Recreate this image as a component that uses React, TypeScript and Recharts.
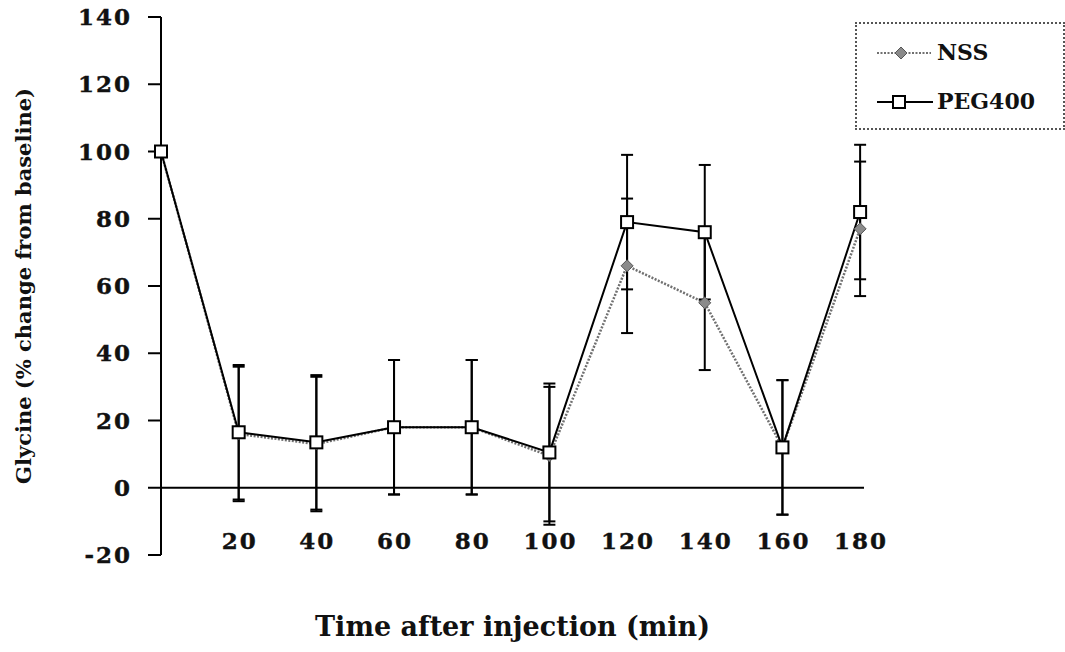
import { LineChart, Line, XAxis, YAxis, ErrorBar, ReferenceLine } from "recharts";

// minutes after injection
const times = [0, 20, 40, 60, 80, 100, 120, 140, 160, 180];
const nssMean = [100, 16, 13, 18, 18, 9.5, 66, 55, 12, 77];
const nssErr = [null, 20, 20, 20, 20, 20.5, 20, 20, 20, 20];
const pegMean = [100, 16.5, 13.5, 18, 18, 10.5, 79, 76, 12, 82];
const pegErr = [null, 20, 20, 20, 20, 20.5, 20, 20, 20, 20];

const xTicks = [20, 40, 60, 80, 100, 120, 140, 160, 180];
const yTicks = [-20, 0, 20, 40, 60, 80, 100, 120, 140];

const seriesNames = ["NSS", "PEG400"];

const data = times.map((t, i) => ({
    time: t,
    nss: nssMean[i],
    nssErr: nssErr[i],
    peg: pegMean[i],
    pegErr: pegErr[i],
}));

const tickFont = {
    fontFamily: "DejaVu Serif",
    fontWeight: 700,
    fontSize: 23,
    letterSpacing: 2,
    fill: "#111",
    stroke: "#111",
    strokeWidth: 0.4,
};

const titleFont = {
    fontFamily: "DejaVu Serif",
    fontWeight: 700,
    fill: "#111",
};

const NssDot = (props: any) => {
    const { cx, cy } = props;
    if (cx == null || cy == null) return null;
    const r = 6;
    return (
        <polygon
            points={`${cx},${cy - r} ${cx + r},${cy} ${cx},${cy + r} ${cx - r},${cy}`}
            fill="#8a8a8a"
            stroke="#555"
            strokeWidth={1}
        />
    );
};

const PegDot = (props: any) => {
    const { cx, cy } = props;
    if (cx == null || cy == null) return null;
    return (
        <rect x={cx - 6} y={cy - 6} width={12} height={12} fill="#fff" stroke="#000" strokeWidth={2} />
    );
};

const XTick = (props: any) => {
    const { x, y, payload } = props;
    return (
        <text x={x + 1} y={y - 12} textAnchor="middle" dominantBaseline="middle" style={tickFont}>
            {payload.value}
        </text>
    );
};

const LegendBox = () => (
    <div
        style={{
            position: "absolute",
            left: 855,
            top: 22,
            width: 206,
            height: 104,
            border: "2px dotted #555",
            background: "#fff",
        }}
    >
        <svg width={206} height={104}>
            <line x1={20} y1={29} x2={74} y2={29} stroke="#707070" strokeWidth={2} strokeDasharray="2 1.5" />
            <NssDot cx={44} cy={29} />
            <text x={80} y={30} dominantBaseline="middle" style={{ ...titleFont, fontSize: 22 }}>
                {seriesNames[0]}
            </text>
            <line x1={20} y1={78} x2={76} y2={78} stroke="#000" strokeWidth={2} />
            <PegDot cx={42} cy={78} />
            <text x={80} y={79} dominantBaseline="middle" style={{ ...titleFont, fontSize: 22 }}>
                {seriesNames[1]}
            </text>
        </svg>
    </div>
);

export default function App() {
    return (
        <div style={{ position: "absolute", left: 0, top: 0, width: 1065, height: 652, background: "#fff" }}>
            <LineChart
                width={1065}
                height={652}
                data={data}
                margin={{ top: 17, right: 201, bottom: 0, left: 0 }}
            >
                <XAxis
                    dataKey="time"
                    type="number"
                    domain={[0, 181]}
                    ticks={xTicks}
                    axisLine={false}
                    tickLine={false}
                    tickSize={0}
                    tickMargin={0}
                    height={97}
                    tick={<XTick />}
                    label={{
                        value: "Time after injection (min)",
                        position: "insideTop",
                        offset: 62,
                        style: { ...titleFont, fontSize: 27 },
                    }}
                />
                <YAxis
                    type="number"
                    domain={[-20, 140]}
                    ticks={yTicks}
                    width={161}
                    axisLine={{ stroke: "#000", strokeWidth: 2 }}
                    tickLine={{ stroke: "#000", strokeWidth: 2 }}
                    tickSize={13}
                    tickMargin={16}
                    tick={tickFont}
                    label={{
                        value: "Glycine (% change from baseline)",
                        angle: -90,
                        position: "insideLeft",
                        offset: 24,
                        style: { ...titleFont, fontSize: 21, textAnchor: "middle" },
                    }}
                />
                <ReferenceLine y={0} stroke="#000" strokeWidth={2} ifOverflow="extendDomain" />
                <Line
                    dataKey="nss"
                    name={seriesNames[0]}
                    stroke="#707070"
                    strokeWidth={2.5}
                    strokeDasharray="2 1.5"
                    dot={<NssDot />}
                    activeDot={false}
                    isAnimationActive={false}
                >
                    <ErrorBar dataKey="nssErr" direction="y" width={6} stroke="#000" strokeWidth={2} />
                </Line>
                <Line
                    dataKey="peg"
                    name={seriesNames[1]}
                    stroke="#000"
                    strokeWidth={2}
                    dot={<PegDot />}
                    activeDot={false}
                    isAnimationActive={false}
                >
                    <ErrorBar dataKey="pegErr" direction="y" width={6} stroke="#000" strokeWidth={2} />
                </Line>
            </LineChart>
            <LegendBox />
        </div>
    );
}
